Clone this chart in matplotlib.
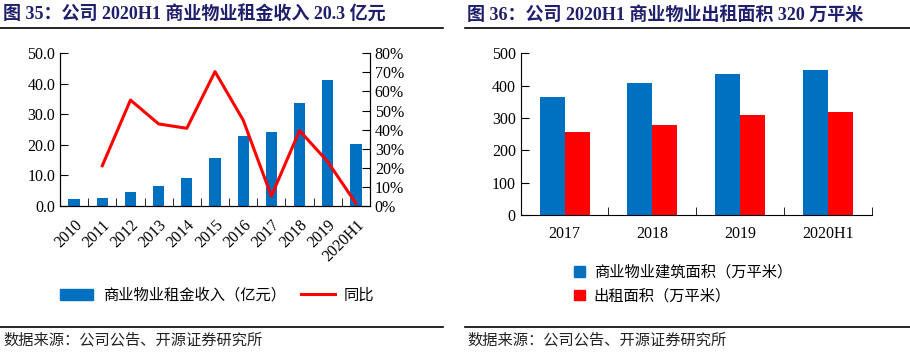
import matplotlib.pyplot as plt
import numpy as np
from matplotlib.patches import Patch
from matplotlib.lines import Line2D
from matplotlib.ticker import FuncFormatter

# data for figure 35
years = ["2010", "2011", "2012", "2013", "2014", "2015", "2016", "2017", "2018", "2019", "2020H1"]
rent = [2.3, 2.7, 4.6, 6.7, 9.3, 15.8, 22.9, 24.3, 33.8, 41.4, 20.3]
yoy = [np.nan, 0.211, 0.555, 0.430, 0.407, 0.704, 0.450, 0.052, 0.395, 0.232, 0.014]

# data for figure 36
periods = ["2017", "2018", "2019", "2020H1"]
build_area = [365, 408, 436, 448]
let_area = [257, 279, 310, 320]

BLUE = "#0070C0"
RED = "#FF0000"
NAVY = "#1F1F6B"
MIX = ["Liberation Serif", "Noto Sans CJK SC"]
CJK = ["Noto Sans CJK SC", "DejaVu Sans"]

plt.rcParams["font.family"] = MIX
plt.rcParams["font.size"] = 11.5

fig = plt.figure(figsize=(9.1, 3.52), dpi=100)
W, H = 910.0, 352.0


def fx(px):
    return px / W


def fy(py):
    return 1 - py / H


# titles and rules
fig.text(fx(3), fy(15), "图 35：公司 2020H1 商业物业租金收入 20.3 亿元", family=MIX,
         fontweight="bold", fontsize=13, color=NAVY, va="center", ha="left")
fig.text(fx(467), fy(15), "图 36：公司 2020H1 商业物业出租面积 320 万平米", family=MIX,
         fontweight="bold", fontsize=13, color=NAVY, va="center", ha="left")
for x0, x1 in [(0, 443), (465, 910)]:
    for yy in [28, 327]:
        fig.add_artist(Line2D([fx(x0), fx(x1)], [fy(yy), fy(yy)], color="black", lw=1.2))
fig.text(fx(3), fy(340), "数据来源：公司公告、开源证券研究所", family=CJK, fontsize=11,
         color="#222222", va="center", ha="left")
fig.text(fx(467), fy(340), "数据来源：公司公告、开源证券研究所", family=CJK, fontsize=11,
         color="#222222", va="center", ha="left")

# left chart
ax = fig.add_axes([fx(60), fy(206), fx(370 - 60), (206 - 53.3) / H])
x = np.arange(len(years))
ax.bar(x, rent, width=0.4, color=BLUE, zorder=2)
ax.set_xlim(-0.5, len(years) - 0.5)
ax.set_ylim(0, 50)
ax.set_yticks(np.arange(0, 51, 10))
ax.yaxis.set_major_formatter(FuncFormatter(lambda v, p: "%.1f" % v))
ax.set_xticks(x)
ax.set_xticklabels(years, rotation=45, ha="right", rotation_mode="anchor")
ax.set_xticks(np.arange(0.5, len(years) - 1, 1), minor=True)
ax.tick_params(axis="x", which="major", length=0, pad=8)
ax.tick_params(axis="x", which="minor", length=6, direction="in")
ax.tick_params(axis="y", direction="in", length=6)
ax.spines["top"].set_visible(False)

ax2 = ax.twinx()
ax2.plot(x, yoy, color=RED, lw=2.2, zorder=3)
ax2.set_ylim(0, 0.8)
ax2.set_yticks(np.arange(0, 0.81, 0.1))
ax2.yaxis.set_major_formatter(FuncFormatter(lambda v, p: "%d%%" % round(v * 100)))
ax2.tick_params(axis="y", direction="in", length=6)
ax2.spines["top"].set_visible(False)

handles = [Patch(color=BLUE), Line2D([0], [0], color=RED, lw=2.2)]
fig.legend(handles, ["商业物业租金收入（亿元）", "同比"], loc="center",
           bbox_to_anchor=(fx(217), fy(295)), ncol=2, frameon=False, prop={"family": CJK, "size": 11},
           handlelength=2.2, handleheight=0.7, columnspacing=1.0, handletextpad=0.6)

# right chart
bx = fig.add_axes([fx(520.7), fy(215), fx(871.7 - 520.7), (215 - 53.3) / H])
xp = np.arange(len(periods))
bw = 0.285
bx.bar(xp - bw / 2, build_area, width=bw, color=BLUE)
bx.bar(xp + bw / 2, let_area, width=bw, color=RED)
bx.set_xlim(-0.5, len(periods) - 0.5)
bx.set_ylim(0, 500)
bx.set_yticks(np.arange(0, 501, 100))
bx.set_xticks(xp)
bx.set_xticklabels(periods)
bx.set_xticks(np.arange(0.5, len(periods), 1), minor=True)
bx.tick_params(axis="x", which="major", length=0, pad=8)
bx.tick_params(axis="x", which="minor", length=6, direction="in")
bx.tick_params(axis="y", direction="in", length=6)
bx.spines["top"].set_visible(False)
bx.spines["right"].set_visible(False)

handles2 = [Patch(color=BLUE), Patch(color=RED)]
fig.legend(handles2, ["商业物业建筑面积（万平米）", "出租面积（万平米）"], loc="center",
           bbox_to_anchor=(fx(683), fy(284)), ncol=1, frameon=False, prop={"family": CJK, "size": 11},
           handlelength=0.7, handleheight=0.7, labelspacing=0.45, handletextpad=0.6)

fig.savefig("out.png", dpi=100)
